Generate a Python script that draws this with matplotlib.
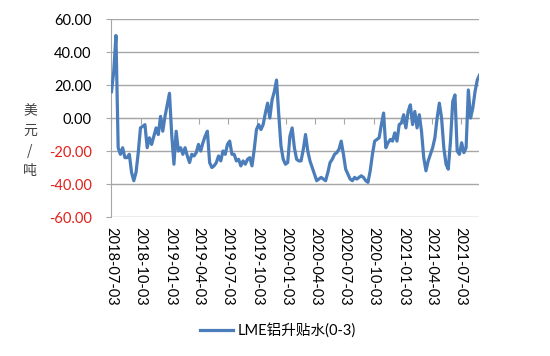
import numpy as np
import pandas as pd
import matplotlib
matplotlib.use('Agg')
import matplotlib.pyplot as plt
import matplotlib.dates as mdates

plt.rcParams['font.family'] = ['Lato', 'Noto Sans CJK SC', 'DejaVu Sans']

# LME aluminium cash-3M spread, weekly readings (USD/t), starting 2018-07-03
premium = [
    16, 28, 50, -18, -22, -18, -24, -24, -22, -33,
    -38, -33, -21, -6, -5, -4, -18, -12, -16, -11,
    -6, -10, 1, -8, 1, 8, 15, -10, -28, -8,
    -20, -18, -22, -18, -23, -27, -22, -23, -21, -16,
    -20, -15, -11, -8, -27, -30, -29, -27, -23, -26,
    -20, -22, -16, -14, -22, -22, -26, -25, -29, -26,
    -28, -25, -24, -29, -19, -7, -4, -7, -4, 3,
    9, 0, 11, 16, 23, 2, -17, -25, -28, -27,
    -11, -6, -18, -25, -26, -26, -19, -10, -20, -26,
    -30, -34, -38, -37, -36, -37, -38, -33, -27, -25,
    -22, -21, -19, -14, -22, -31, -34, -37, -38, -36,
    -37, -36, -35, -36, -38, -39, -32, -22, -14, -13,
    -12, -4, 3, -18, -15, -13, -14, -9, -14, -4,
    -3, 2, -6, 4, 8, -4, 4, -6, 2, -8,
    -24, -32, -26, -22, -18, -12, 0, 9, 0, -18,
    -28, -31, -14, 10, 14, -20, -22, -15, -21, -18,
    17, 0, 6, 16, 23, 26,
]
dates = pd.date_range('2018-07-03', periods=len(premium), freq='7D')

tick_dates = pd.date_range('2018-07-03', '2021-07-03', freq=pd.DateOffset(months=3))
tick_labels = [d.strftime('%Y-%m-%d') for d in tick_dates]
y_ticks = [-60, -40, -20, 0, 20, 40, 60]

grey = '#A6A6A6'
red = '#E0201B'

fig = plt.figure(figsize=(5.5, 3.56), dpi=100)
ax = fig.add_axes([0.2027, 0.3904, 0.6691, 0.5562])

ax.plot(dates, premium, color='#4A7DBA', lw=2.3, solid_joinstyle='round',
        label='LME铝升贴水(0-3)', zorder=3)
ax.set_xlim(dates[0], dates[-1])
ax.set_ylim(-60, 60)

ax.set_yticks(y_ticks)
ax.set_yticklabels([f'{v:.2f}' for v in y_ticks])
for lab, v in zip(ax.get_yticklabels(), y_ticks):
    lab.set_color(red if v < 0 else 'black')
ax.yaxis.grid(True, color=grey, lw=1.0)
ax.set_axisbelow(True)
for s in ['top', 'right']:
    ax.spines[s].set_visible(False)
ax.spines['left'].set_color(grey)
ax.tick_params(axis='y', length=3.3, color=grey, pad=11, labelsize=10.5)

# horizontal axis crosses at 0: tick marks there, labels at the bottom
ax.spines['bottom'].set_position(('data', 0))
ax.spines['bottom'].set_color(grey)
ax.set_xticks(tick_dates)
ax.tick_params(axis='x', length=4.5, color=grey, direction='out',
               labelbottom=False)

sec = ax.secondary_xaxis('bottom')
sec.set_xticks(mdates.date2num(tick_dates))
sec.set_xticklabels(tick_labels, rotation=-90, ha='center', va='top')
sec.tick_params(length=0, pad=7, labelsize=10.5)
sec.spines['bottom'].set_visible(False)

fig.text(0.0545, 0.604, '美\n元\n/\n吨', ha='center', va='center', fontsize=10,
         linespacing=1.55, color='#404040',
         family=['Noto Sans CJK SC', 'DejaVu Sans'])

fig.legend(loc='center', bbox_to_anchor=(0.505, 0.071), frameon=False,
           handlelength=2.3, handletextpad=0.3, fontsize=10.5)

fig.savefig('out.png', dpi=100)
